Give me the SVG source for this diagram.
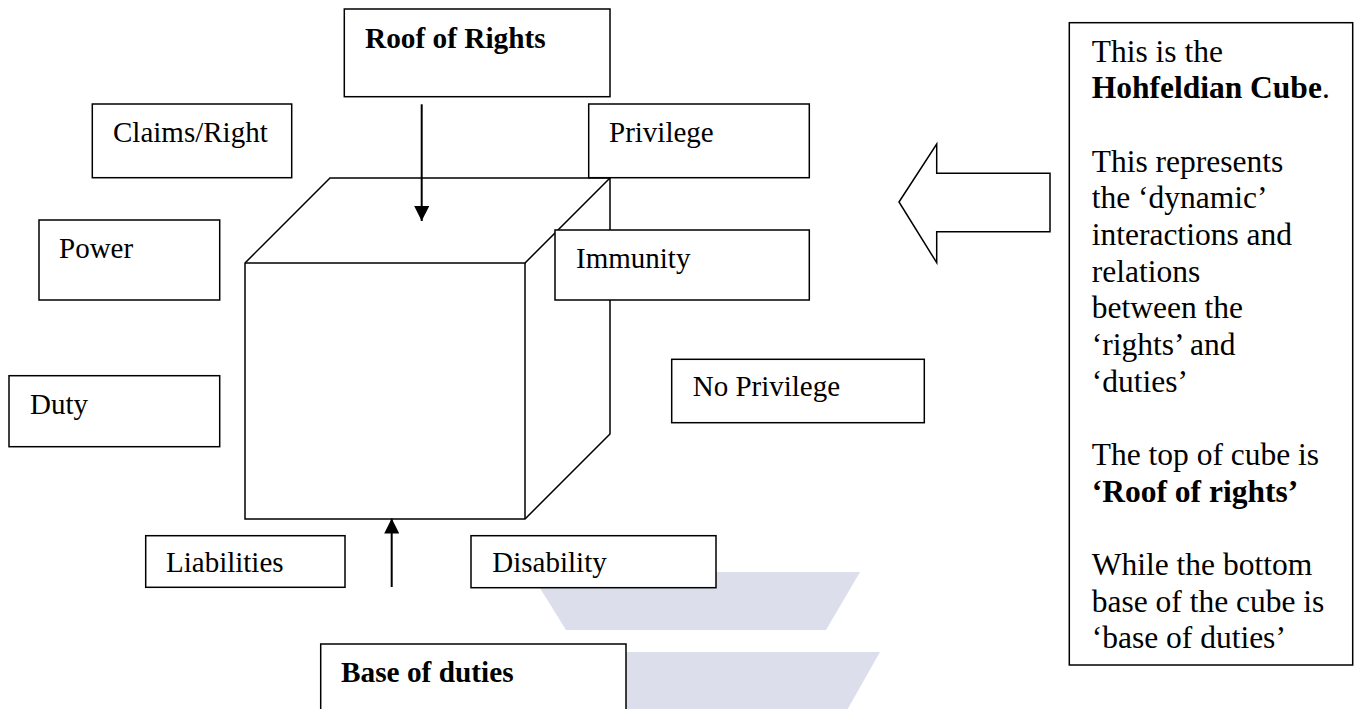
<svg xmlns="http://www.w3.org/2000/svg" width="1354" height="709" viewBox="0 0 1354 709">
<style>
.box{fill:#fff;stroke:#000;stroke-width:1.5}
.lbl{font-family:"Liberation Serif","Times New Roman",serif;font-size:29px;fill:#000}
.bold{font-weight:bold;font-size:29.3px}
.note{font-family:"Liberation Serif","Times New Roman",serif;font-size:31.5px;fill:#000}
.edge{fill:none;stroke:#000;stroke-width:1.5}
.conn{stroke:#000;stroke-width:2;fill:none}
.wm{fill:#dcdeeb}
</style>
<defs>
<marker id="ah" markerUnits="userSpaceOnUse" viewBox="0 0 15 15" refX="15" refY="7.5" markerWidth="15" markerHeight="15" orient="auto">
<path d="M0,0 L15,7.5 L0,15 z" fill="#000"/>
</marker>
</defs>
<rect width="1354" height="709" fill="#fff"/>
<g id="watermark">
<polygon class="wm" points="530,572 860,572 826,630 566,630"/>
<polygon class="wm" points="560,652 880,652 846,712 590,712"/>
</g>
<g id="cube">
<polygon class="edge" points="245,263 330,178 610,178 610,434 525,519 245,519"/>
<polyline class="edge" points="245,263 525,263 610,178"/>
<line class="edge" x1="525" y1="263" x2="525" y2="519"/>
</g>
<g id="connectors">
<line class="conn" x1="421.7" y1="104.3" x2="421.7" y2="221" marker-end="url(#ah)"/>
<line class="conn" x1="391.7" y1="587" x2="391.7" y2="518.5" marker-end="url(#ah)"/>
</g>
<g id="roof">
<rect class="box" x="344.3" y="9" width="265.7" height="87.7"/>
<text class="lbl bold" x="365" y="48">Roof of Rights</text>
</g>
<g id="claims">
<rect class="box" x="92.3" y="104" width="199.4" height="73.7"/>
<text class="lbl" x="113" y="142">Claims/Right</text>
</g>
<g id="privilege">
<rect class="box" x="588.7" y="104" width="220.6" height="73.7"/>
<text class="lbl" x="609" y="141.7">Privilege</text>
</g>
<g id="power">
<rect class="box" x="39" y="220" width="180.7" height="80"/>
<text class="lbl" x="59" y="257.7">Power</text>
</g>
<g id="immunity">
<rect class="box" x="555" y="230" width="254.3" height="70"/>
<text class="lbl" x="576" y="267.7">Immunity</text>
</g>
<g id="noprivilege">
<rect class="box" x="671.7" y="359.3" width="252.6" height="63.4"/>
<text class="lbl" x="692.7" y="396">No Privilege</text>
</g>
<g id="duty">
<rect class="box" x="9" y="375.7" width="210.7" height="71"/>
<text class="lbl" x="30" y="414">Duty</text>
</g>
<g id="liabilities">
<rect class="box" x="145.7" y="535.7" width="199.3" height="51.6"/>
<text class="lbl" x="166" y="572.3">Liabilities</text>
</g>
<g id="disability">
<rect class="box" x="471" y="535.7" width="245" height="52"/>
<text class="lbl" x="492.3" y="572">Disability</text>
</g>
<g id="base">
<rect class="box" x="320.7" y="644" width="305.3" height="80"/>
<text class="lbl bold" x="341" y="682.3">Base of duties</text>
</g>
<g id="bigarrow">
<polygon class="box" points="899,202 936.7,144 936.7,173.3 1050,173.3 1050,231.7 936.7,231.7 936.7,262.7"/>
</g>
<g id="note">
<rect class="box" x="1069.3" y="22.7" width="283.4" height="642.3"/>
<text class="note" x="1091.7" y="61.7">This is the</text>
<text class="note" x="1091.7" y="98.3"><tspan font-weight="bold">Hohfeldian Cube</tspan>.</text>
<text class="note" x="1091.7" y="171.7">This represents</text>
<text class="note" x="1091.7" y="208.3">the ‘dynamic’</text>
<text class="note" x="1091.7" y="245">interactions and</text>
<text class="note" x="1091.7" y="281.7">relations</text>
<text class="note" x="1091.7" y="318.3">between the</text>
<text class="note" x="1091.7" y="355">‘rights’ and</text>
<text class="note" x="1091.7" y="391.7">‘duties’</text>
<text class="note" x="1091.7" y="465">The top of cube is</text>
<text class="note" x="1091.7" y="501.7" font-weight="bold">‘Roof of rights’</text>
<text class="note" x="1091.7" y="575">While the bottom</text>
<text class="note" x="1091.7" y="611.7">base of the cube is</text>
<text class="note" x="1091.7" y="648.3">‘base of duties’</text>
</g>
</svg>
